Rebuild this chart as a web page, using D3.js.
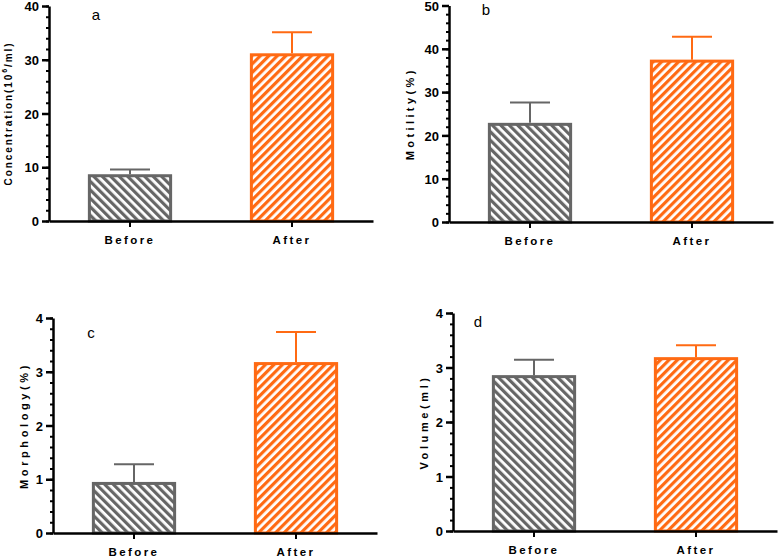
<!DOCTYPE html>
<html><head><meta charset="utf-8">
<script src="https://cdn.jsdelivr.net/npm/d3@7"></script>
<style>body{margin:0;background:#fff}svg{display:block}</style>
</head><body>
<svg id="c" width="778" height="557"></svg>
<script>
const categories = ["Before", "After"];
const concentration = [8.7, 31.2];
const concentrationErr = [0.9, 3.9];
const motility = [22.9, 37.5];
const motilityErr = [4.7, 5.3];
const morphology = [0.95, 3.18];
const morphologyErr = [0.33, 0.56];
const volume = [2.86, 3.19];
const volumeErr = [0.28, 0.22];
const ticksA = [0, 10, 20, 30, 40];
const ticksB = [0, 10, 20, 30, 40, 50];
const ticksC = [0, 1, 2, 3, 4];
const ticksD = [0, 1, 2, 3, 4];
const panelLetters = ["a", "b", "c", "d"];

const GRAY = "#666666", ORANGE = "#FF6A13";
const svg = d3.select("#c");
const defs = svg.append("defs");
function pattern(id, color, angle) {
  const p = defs.append("pattern").attr("id", id).attr("patternUnits", "userSpaceOnUse")
    .attr("width", 6).attr("height", 6).attr("patternTransform", `rotate(${angle})`);
  p.append("rect").attr("width", 6).attr("height", 6).attr("fill", "#fff");
  p.append("rect").attr("x", 0).attr("y", 0).attr("width", 3.2).attr("height", 6).attr("fill", color);
}
pattern("pg", GRAY, -45);
pattern("po", ORANGE, 45);
const colors = [GRAY, ORANGE];
const fills = ["url(#pg)", "url(#po)"];

const panels = [
  {vals: concentration, err: concentrationErr, ticks: ticksA, max: 40, minor: 2,
   x0: 49, y0: 6, y1: 221, title: "conc", tx: 9, fs: 10, ls: 1.9, letter: panelLetters[0], lx: 96, ly: 20},
  {vals: motility, err: motilityErr, ticks: ticksB, max: 50, minor: 2,
   x0: 449, y0: 5.5, y1: 222, title: "Motility(%)", tx: 411, fs: 11, ls: 3.4, letter: panelLetters[1], lx: 486, ly: 15},
  {vals: morphology, err: morphologyErr, ticks: ticksC, max: 4, minor: 0.2,
   x0: 53, y0: 318, y1: 533, title: "Morphology(%)", tx: 25, fs: 11, ls: 3.6, letter: panelLetters[2], lx: 91, ly: 338},
  {vals: volume, err: volumeErr, ticks: ticksD, max: 4, minor: 0.2,
   x0: 453, y0: 313, y1: 531, title: "Volume(ml)", tx: 425, fs: 11, ls: 3.6, letter: panelLetters[3], lx: 478, ly: 327}
];

panels.forEach(p => {
  const g = svg.append("g");
  const x = d3.scaleBand().domain(categories).range([p.x0, p.x0 + 324]).paddingInner(0.48).paddingOuter(0.24);
  const y = d3.scaleLinear().domain([0, p.max]).range([p.y1, p.y0]);
  const data = categories.map((c, i) => ({c, v: p.vals[i], e: p.err[i], i}));

  g.selectAll("rect.bar").data(data).join("rect")
    .attr("x", d => x(d.c) + 1.5).attr("width", x.bandwidth() - 3)
    .attr("y", d => y(d.v) + 1.5).attr("height", d => y(0) - y(d.v) - 1.5)
    .attr("fill", d => fills[d.i]).attr("stroke", d => colors[d.i]).attr("stroke-width", 3);
  data.forEach(d => {
    const cx = x(d.c) + x.bandwidth() / 2;
    g.append("line").attr("x1", cx).attr("x2", cx).attr("y1", y(d.v)).attr("y2", y(d.v + d.e))
      .attr("stroke", colors[d.i]).attr("stroke-width", 2);
    g.append("line").attr("x1", cx - 20).attr("x2", cx + 20).attr("y1", y(d.v + d.e)).attr("y2", y(d.v + d.e))
      .attr("stroke", colors[d.i]).attr("stroke-width", 2);
  });

  const minorVals = d3.range(0, p.max + p.minor / 2, p.minor);
  const yMinor = g.append("g").attr("transform", `translate(${p.x0},0)`)
    .call(d3.axisLeft(y).tickValues(minorVals).tickSize(3).tickFormat(""));
  yMinor.select(".domain").remove();
  yMinor.selectAll("line").attr("stroke", "#000").attr("stroke-width", 2);
  const yAx = g.append("g").attr("transform", `translate(${p.x0},0)`)
    .call(d3.axisLeft(y).tickValues(p.ticks).tickSize(7).tickSizeOuter(0).tickPadding(3).tickFormat(d3.format("d")));
  yAx.select(".domain").attr("stroke-width", 2.5);
  yAx.selectAll("line").attr("stroke-width", 2.5);
  yAx.selectAll("text").attr("font-family", "Liberation Sans, Arial, sans-serif")
    .attr("font-size", 13).attr("font-weight", "bold").attr("fill", "#000").attr("dy", "0.36em");

  const xAx = g.append("g").attr("transform", `translate(0,${p.y1})`)
    .call(d3.axisBottom(x).tickSize(6).tickSizeOuter(0).tickPadding(9));
  xAx.select(".domain").attr("stroke-width", 2.5);
  xAx.selectAll("line").attr("stroke-width", 2);
  xAx.selectAll("text").attr("font-family", "Liberation Sans, Arial, sans-serif")
    .attr("font-size", 11.5).attr("font-weight", "bold").attr("fill", "#000")
    .attr("letter-spacing", "2.4px");

  const cy = (p.y0 + p.y1) / 2;
  const t = g.append("text").attr("transform", `translate(${p.tx},${cy}) rotate(-90)`)
    .attr("text-anchor", "middle").attr("dominant-baseline", "middle")
    .attr("font-family", "Liberation Sans, Arial, sans-serif")
    .attr("font-size", p.fs).attr("font-weight", "bold").attr("letter-spacing", p.ls + "px").attr("fill", "#000");
  if (p.title === "conc") {
    t.append("tspan").text("Concentration(10");
    t.append("tspan").text("6").attr("font-size", 7).attr("dy", -4);
    t.append("tspan").text("/ml)").attr("dy", 4);
  } else {
    t.text(p.title);
  }
  g.append("text").attr("x", p.lx).attr("y", p.ly).attr("text-anchor", "middle")
    .attr("font-family", "Liberation Sans, Arial, sans-serif").attr("font-size", 15).attr("fill", "#000")
    .text(p.letter);
});
</script>
</body></html>
